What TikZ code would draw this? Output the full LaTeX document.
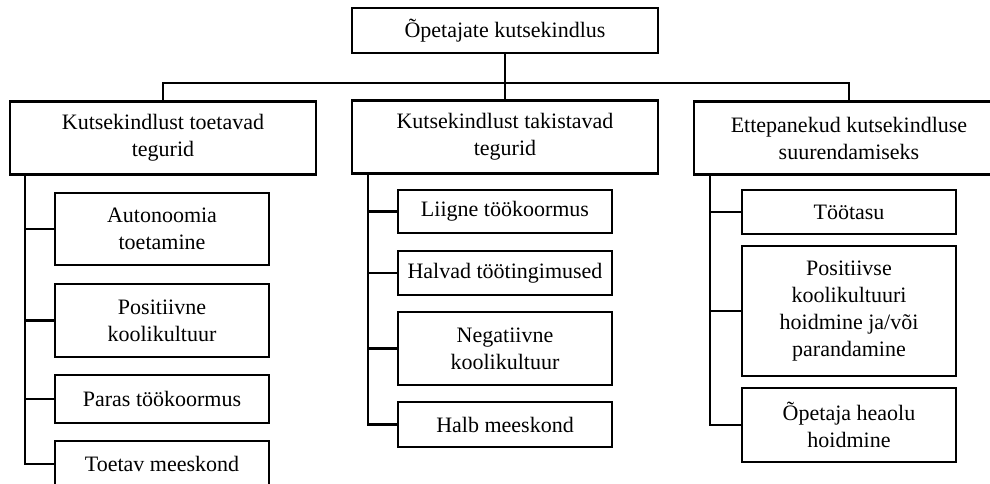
\documentclass[tikz,border=0pt]{standalone}
\usepackage{fontspec}
\setmainfont{Liberation Serif}
\begin{document}
\begin{tikzpicture}[x=1pt,y=-1pt,
  box/.style={draw=black,line width=2.8pt,inner sep=0pt,align=center,
    font=\fontsize{22}{27}\selectfont},
  conn/.style={draw=black,line width=2.8pt}]
\useasboundingbox (0,0) rectangle (990,484);
\clip (0,0) rectangle (990,484);
\node[box,minimum width=306,minimum height=45] (top) at (505,30.5) {Õpetajate kutsekindlus};
\node[box,minimum width=306,minimum height=73] (L) at (163,138) {Kutsekindlust toetavad\\tegurid};
\node[box,minimum width=306,minimum height=73] (M) at (505,137) {Kutsekindlust takistavad\\tegurid};
\node[box,minimum width=310,minimum height=73] (R) at (849,138) {Ettepanekud kutsekindluse\\suurendamiseks};
% left children
\node[box,minimum width=214,minimum height=72] (a1) at (162,229) {Autonoomia\\toetamine};
\node[box,minimum width=214,minimum height=73] (a2) at (162,320.5) {Positiivne\\koolikultuur};
\node[box,minimum width=214,minimum height=48] (a3) at (162,399) {Paras töökoormus};
\node[box,minimum width=214,minimum height=46] (a4) at (162,464) {Toetav meeskond};
% middle children
\node[box,minimum width=214,minimum height=43] (b1) at (505,211.5) {Liigne töökoormus};
\node[box,minimum width=214,minimum height=44] (b2) at (505,273) {Halvad töötingimused};
\node[box,minimum width=214,minimum height=73] (b3) at (505,348.5) {Negatiivne\\koolikultuur};
\node[box,minimum width=214,minimum height=45] (b4) at (505,424.5) {Halb meeskond};
% right children
\node[box,minimum width=214,minimum height=44] (c1) at (849,212) {Töötasu};
\node[box,minimum width=214,minimum height=130] (c2) at (849,311) {Positiivse\\koolikultuuri\\hoidmine ja/või\\parandamine};
\node[box,minimum width=214,minimum height=74] (c3) at (849,425) {Õpetaja heaolu\\hoidmine};
% bus
\coordinate (bus) at (0,83);
\coordinate (lx) at (25,0);
\coordinate (mx) at (368,0);
\coordinate (rx) at (710,0);
\draw[conn] (top.south) -- (top.south |- bus);
\draw[conn] (L.north) -- (L.north |- bus) -- (R.north |- bus) -- (R.north);
\draw[conn] (M.north) -- (M.north |- bus);
% trees
\draw[conn] (L.south -| lx) |- (a4.west);
\foreach \n in {a1,a2,a3} \draw[conn] (\n.west) -- (\n.west -| lx);
\draw[conn] (M.south -| mx) |- (b4.west);
\foreach \n in {b1,b2,b3} \draw[conn] (\n.west) -- (\n.west -| mx);
\draw[conn] (R.south -| rx) |- (c3.west);
\foreach \n in {c1,c2} \draw[conn] (\n.west) -- (\n.west -| rx);
\end{tikzpicture}
\end{document}
